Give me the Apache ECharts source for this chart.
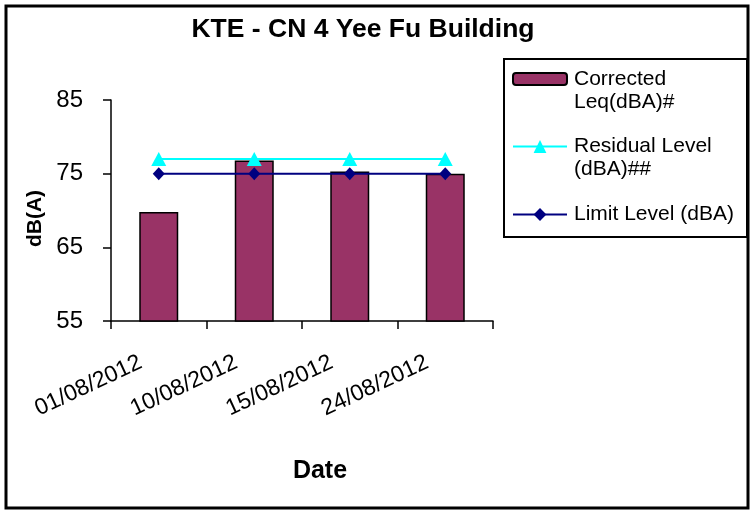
<!DOCTYPE html>
<html>
<head>
<meta charset="utf-8">
<script src="https://cdn.jsdelivr.net/npm/echarts@6/dist/echarts.min.js"></script>
<style>
html,body{margin:0;padding:0;background:#fff;}
#chart{width:751px;height:510px;}
</style>
</head>
<body>
<div id="chart"></div>
<script>
const categories = ['01/08/2012', '10/08/2012', '15/08/2012', '24/08/2012'];
const corrected = [69.8, 76.8, 75.3, 75.0];
const residual = [77, 77, 77, 77];
const limit = [75, 75, 75, 75];
const yTicks = [55, 65, 75, 85];

const nameCorrected = 'Corrected\nLeq(dBA)#';
const nameResidual = 'Residual Level\n(dBA)##';
const nameLimit = 'Limit Level (dBA)';

const FONT = '"Liberation Sans", Arial, sans-serif';
const chart = echarts.init(document.getElementById('chart'), null, {renderer: 'canvas'});

function legendFor(name, top, h) {
  return {
    data: [name],
    orient: 'vertical',
    left: 512,
    top: top,
    padding: 0,
    itemWidth: 54,
    itemHeight: h,
    selectedMode: false,
    formatter: function (n) { return n.indexOf('\n') >= 0 ? '\u00a0\n' + n : n; },
    textStyle: {
      fontFamily: FONT, fontSize: 21, color: '#000', lineHeight: 23,
      padding: [0, 0, 0, 2]
    }
  };
}

chart.setOption({
  animation: false,
  backgroundColor: '#fff',
  title: {
    text: 'KTE - CN 4 Yee Fu Building',
    left: 358, top: 11, textAlign: 'center',
    textStyle: {fontFamily: FONT, fontSize: 26.5, fontWeight: 'bold', color: '#000'}
  },
  legend: [
    legendFor(nameCorrected, 44.5, 12),
    legendFor(nameResidual, 112, 16),
    legendFor(nameLimit, 203, 16)
  ],
  grid: {left: 111, right: 258, top: 100, bottom: 189, containLabel: false},
  xAxis: {
    type: 'category',
    data: categories,
    name: 'Date',
    nameLocation: 'middle',
    nameGap: 138,
    nameTextStyle: {fontFamily: FONT, fontSize: 25, fontWeight: 'bold', color: '#000', padding: [0, 0, 0, 36]},
    axisLine: {lineStyle: {color: '#000', width: 1.5}},
    axisTick: {show: true, length: 8, lineStyle: {color: '#000', width: 1.5}},
    axisLabel: {rotate: 25, margin: 32, fontFamily: FONT, fontSize: 23, color: '#000', padding: [0, 20, 0, 0]}
  },
  yAxis: {
    type: 'value',
    min: yTicks[0], max: yTicks[yTicks.length - 1], interval: 10,
    name: 'dB(A)',
    nameLocation: 'middle',
    nameRotate: 90,
    nameGap: 55,
    nameTextStyle: {fontFamily: FONT, fontSize: 21, fontWeight: 'bold', color: '#000', padding: [0, 16, 0, 0]},
    axisLine: {show: true, lineStyle: {color: '#000', width: 1.5}},
    axisTick: {show: true, length: 8, lineStyle: {color: '#000', width: 1.5}},
    splitLine: {show: false},
    axisLabel: {margin: 28, fontFamily: FONT, fontSize: 24, color: '#000'}
  },
  series: [
    {
      name: nameCorrected, type: 'bar', data: corrected, barWidth: 39,
      itemStyle: {color: '#993366', borderColor: '#000', borderWidth: 1.5}
    },
    {
      name: nameResidual, type: 'line', data: residual,
      symbol: 'triangle', symbolSize: [15, 14],
      lineStyle: {color: '#00FFFF', width: 2},
      itemStyle: {color: '#00FFFF'}
    },
    {
      name: nameLimit, type: 'line', data: limit,
      symbol: 'diamond', symbolSize: [12, 13],
      lineStyle: {color: '#000080', width: 2},
      itemStyle: {color: '#000080'}
    }
  ],
  graphic: [
    {type: 'rect', shape: {x: 6, y: 6, width: 742, height: 502},
     style: {fill: null, stroke: '#000', lineWidth: 3}, silent: true, z: -1},
    {type: 'rect', shape: {x: 504, y: 59, width: 243, height: 178},
     style: {fill: null, stroke: '#000', lineWidth: 2}, silent: true, z: -1}
  ]
});
</script>
</body>
</html>
